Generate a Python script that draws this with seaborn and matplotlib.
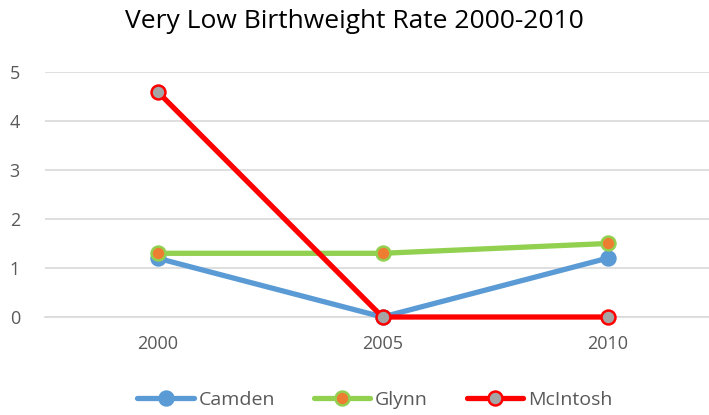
import matplotlib
matplotlib.use("Agg")
import matplotlib.pyplot as plt
import seaborn as sns
import pandas as pd

years = ["2000", "2005", "2010"]
camden = [1.2, 0.0, 1.2]
glynn = [1.3, 1.3, 1.5]
mcintosh = [4.6, 0.0, 0.0]
yticks = [0, 1, 2, 3, 4, 5]

sns.set_theme(style="white")
plt.rcParams['font.family'] = ['Open Sans', 'DejaVu Sans']

fig = plt.figure(figsize=(7.09, 4.15), dpi=100)
ax = fig.add_axes([45/709, (415-317)/415, 675/709, 245/415])

styles = [
    ("Camden", camden, "#5B9BD5", "#5B9BD5", "#5B9BD5"),
    ("Glynn", glynn, "#92D050", "#ED7D31", "#92D050"),
    ("McIntosh", mcintosh, "#FF0000", "#A5A5A5", "#FF0000"),
]
for name, vals, lc, mfc, mec in styles:
    df = pd.DataFrame({"year": years, "value": vals})
    sns.lineplot(data=df, x="year", y="value", ax=ax, color=lc, linewidth=3.8,
                 marker="o", markersize=10, markerfacecolor=mfc,
                 markeredgecolor=mec, markeredgewidth=1.8, label=name,
                 sort=False, zorder=3, clip_on=False)

ax.set_xlim(-0.5, 2.5)
ax.set_ylim(0, 5)
ax.set_yticks(yticks)
ax.set_yticklabels([str(t) for t in yticks])
ax.yaxis.grid(True, color="#D9D9D9", linewidth=1.2)
ax.xaxis.grid(False)
for s in ["top", "right", "left"]:
    ax.spines[s].set_visible(False)
ax.spines["bottom"].set_color("#D9D9D9")
ax.spines["bottom"].set_linewidth(1.2)
ax.spines["bottom"].set_zorder(1)
ax.set_xlabel("")
ax.set_ylabel("")
ax.tick_params(axis="both", length=0, labelsize=13, colors="#595959")
ax.tick_params(axis="x", pad=13)
ax.tick_params(axis="y", pad=18)
for lbl in ax.get_yticklabels():
    lbl.set_horizontalalignment("right")

fig.text(0.5, 1 - 22/415, "Very Low Birthweight Rate 2000-2010", ha="center",
         va="center", fontsize=19, color="#000000")

ax.legend(loc="center", bbox_to_anchor=(375/709, 1 - 400/415),
          bbox_transform=fig.transFigure, ncol=3, frameon=False,
          fontsize=14, handlelength=2.9, columnspacing=2.0,
          labelcolor="#595959", handletextpad=0.25)

fig.savefig("out.png", dpi=100)
